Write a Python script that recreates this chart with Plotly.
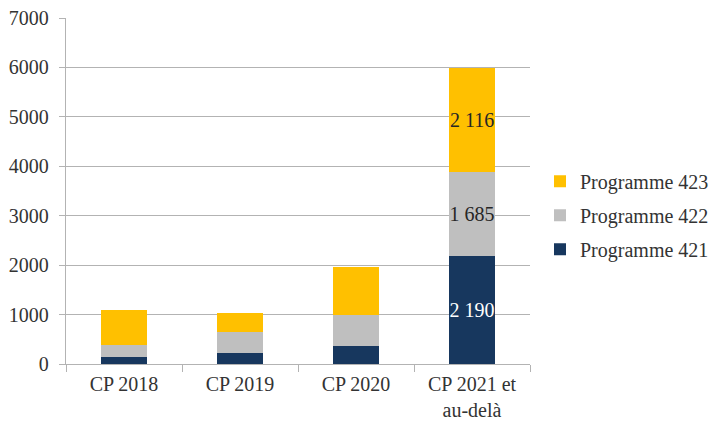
import plotly.graph_objects as go

# Crédits de paiement par échéance (M€), par programme
categories = ["CP 2018", "CP 2019", "CP 2020", "CP 2021 et<br>au-delà"]
prog_421 = [140, 220, 355, 2190]
prog_422 = [235, 425, 630, 1685]
prog_423 = [715, 395, 985, 2116]

series_names = ["Programme 421", "Programme 422", "Programme 423"]
series_values = [prog_421, prog_422, prog_423]
series_colors = ["#17375e", "#bfbfbf", "#ffc000"]
label_colors = ["#ffffff", "#262626", "#262626"]
labelled_index = 3  # only the last column carries value labels

FONT = "Liberation Serif"
GRID = "#b3b3b3"


def fmt(v):
    return f"{v:,}".replace(",", " ")


fig = go.Figure()
for i, (name, vals, col) in enumerate(zip(series_names, series_values, series_colors)):
    texts = [fmt(v) if j == labelled_index else "" for j, v in enumerate(vals)]
    fig.add_trace(go.Bar(
        x=categories, y=vals, name=name,
        marker=dict(color=col, line=dict(width=0)),
        text=texts, textposition="inside", insidetextanchor="middle",
        textangle=0, constraintext="none",
        textfont=dict(family=FONT, size=20, color=label_colors[i]),
        legendgroup=name, legendrank=1000 - i, hoverinfo="skip",
    ))

fig.update_layout(
    barmode="stack",
    bargap=0.6,
    width=710, height=421,
    margin=dict(l=66, r=180, t=18, b=57, autoexpand=False),
    paper_bgcolor="white", plot_bgcolor="white",
    font=dict(family=FONT, size=20, color="#333333"),
    showlegend=True,
    legend=dict(
        traceorder="grouped", tracegroupgap=5,
        x=540 / 710, xref="container", xanchor="left",
        y=0.43, yanchor="middle",
        font=dict(family=FONT, size=20, color="#333333"),
        bgcolor="rgba(0,0,0,0)",
    ),
)

fig.update_yaxes(
    range=[0, 7000], tickvals=[0, 1000, 2000, 3000, 4000, 5000, 6000, 7000],
    showgrid=True, gridcolor=GRID, gridwidth=1.3,
    showline=True, linecolor=GRID, linewidth=1.3,
    ticks="outside", ticklen=6, tickcolor=GRID, tickwidth=1.3,
    ticklabelstandoff=6, zeroline=False, automargin=False,
    tickfont=dict(family=FONT, size=20, color="#333333"),
)
fig.update_xaxes(
    showline=True, linecolor=GRID, linewidth=1.3,
    ticks="outside", tickson="boundaries", ticklen=7, tickcolor=GRID, tickwidth=1.3,
    ticklabelstandoff=2, automargin=False,
    tickfont=dict(family=FONT, size=20, color="#333333"),
)

fig.write_html("out.html")
